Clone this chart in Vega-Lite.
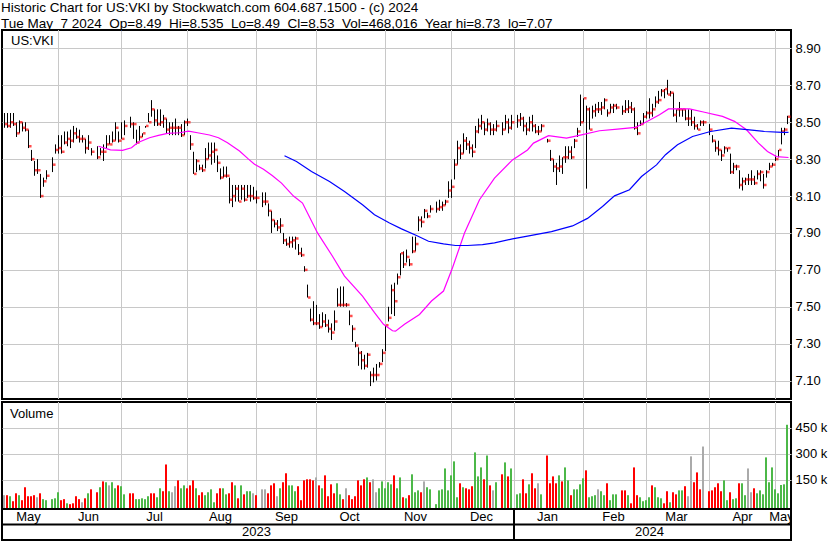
{
"$schema":"https://vega.github.io/schema/vega-lite/v6.json",
"background":"white",
"padding":{"left":0,"top":0,"right":0,"bottom":0},
"bounds":"flush",
"resolve":{"scale":{"color":"independent"}},
"title":{"text":"Historic Chart for US:VKI by Stockwatch.com 604.687.1500 - (c) 2024","subtitle":"Tue May\u00a0 7 2024\u00a0 Op=8.49\u00a0 Hi=8.535\u00a0 Lo=8.49\u00a0 Cl=8.53\u00a0 Vol=468,016\u00a0 Year hi=8.73\u00a0 lo=7.07","anchor":"start","font":"Liberation Sans","fontSize":13.5,"fontWeight":"normal","color":"black","subtitleFont":"Liberation Sans","subtitleFontSize":13.5,"subtitleColor":"black","subtitlePadding":2.5,"offset":-1.5,"dx":1,"dy":0},
"config":{"view":{"stroke":"black","strokeWidth":2},"axis":{"labelFont":"Liberation Sans","labelFontSize":13,"labelColor":"black","gridColor":"#c8c8c8","gridWidth":1,"ticks":false,"domain":false,"title":null},"text":{"font":"Liberation Sans"}},
"datasets":{
"grid":[{"d":"2023-06-01"},{"d":"2023-06-30"},{"d":"2023-08-01"},{"d":"2023-09-01"},{"d":"2023-09-29"},{"d":"2023-11-01"},{"d":"2023-12-01"},{"d":"2024-01-01"},{"d":"2024-02-01"},{"d":"2024-03-01"},{"d":"2024-04-01"},{"d":"2024-05-01"}],
"lab":[{"lbl":"May","d":"2023-05-18","row":"m"},{"lbl":"Jun","d":"2023-06-15","row":"m"},{"lbl":"Jul","d":"2023-07-17","row":"m"},{"lbl":"Aug","d":"2023-08-16","row":"m"},{"lbl":"Sep","d":"2023-09-15","row":"m"},{"lbl":"Oct","d":"2023-10-16","row":"m"},{"lbl":"Nov","d":"2023-11-15","row":"m"},{"lbl":"Dec","d":"2023-12-15","row":"m"},{"lbl":"Jan","d":"2024-01-16","row":"m"},{"lbl":"Feb","d":"2024-02-15","row":"m"},{"lbl":"Mar","d":"2024-03-15","row":"m"},{"lbl":"Apr","d":"2024-04-16","row":"m"},{"lbl":"May","d":"2024-05-03","row":"m"},{"lbl":"2023","d":"2023-09-01","row":"y"},{"lbl":"2024","d":"2024-03-04","row":"y"}],
"sep":[{"row":"y","d":"2024-01-01"}],
"ma":[
{"d":"2023-06-20","k":"ma30","p":8.37},{"d":"2023-06-26","k":"ma30","p":8.35},{"d":"2023-06-30","k":"ma30","p":8.348},{"d":"2023-07-05","k":"ma30","p":8.362},{"d":"2023-07-07","k":"ma30","p":8.389},{"d":"2023-07-13","k":"ma30","p":8.416},{"d":"2023-07-18","k":"ma30","p":8.429},{"d":"2023-07-21","k":"ma30","p":8.44},{"d":"2023-07-27","k":"ma30","p":8.443},{"d":"2023-08-01","k":"ma30","p":8.452},{"d":"2023-08-04","k":"ma30","p":8.443},{"d":"2023-08-10","k":"ma30","p":8.431},{"d":"2023-08-15","k":"ma30","p":8.416},{"d":"2023-08-18","k":"ma30","p":8.389},{"d":"2023-08-24","k":"ma30","p":8.344},{"d":"2023-08-29","k":"ma30","p":8.30},{"d":"2023-08-31","k":"ma30","p":8.272},{"d":"2023-09-05","k":"ma30","p":8.245},{"d":"2023-09-08","k":"ma30","p":8.21},{"d":"2023-09-13","k":"ma30","p":8.17},{"d":"2023-09-19","k":"ma30","p":8.10},{"d":"2023-09-22","k":"ma30","p":8.062},{"d":"2023-09-29","k":"ma30","p":7.90},{"d":"2023-10-06","k":"ma30","p":7.774},{"d":"2023-10-12","k":"ma30","p":7.666},{"d":"2023-10-20","k":"ma30","p":7.558},{"d":"2023-10-26","k":"ma30","p":7.468},{"d":"2023-10-31","k":"ma30","p":7.405},{"d":"2023-11-03","k":"ma30","p":7.37},{"d":"2023-11-06","k":"ma30","p":7.368},{"d":"2023-11-09","k":"ma30","p":7.405},{"d":"2023-11-16","k":"ma30","p":7.458},{"d":"2023-11-22","k":"ma30","p":7.531},{"d":"2023-11-28","k":"ma30","p":7.585},{"d":"2023-12-01","k":"ma30","p":7.711},{"d":"2023-12-07","k":"ma30","p":7.90},{"d":"2023-12-14","k":"ma30","p":8.08},{"d":"2023-12-21","k":"ma30","p":8.197},{"d":"2023-12-29","k":"ma30","p":8.296},{"d":"2024-01-05","k":"ma30","p":8.35},{"d":"2024-01-09","k":"ma30","p":8.387},{"d":"2024-01-16","k":"ma30","p":8.427},{"d":"2024-01-24","k":"ma30","p":8.414},{"d":"2024-01-31","k":"ma30","p":8.432},{"d":"2024-02-08","k":"ma30","p":8.454},{"d":"2024-02-16","k":"ma30","p":8.463},{"d":"2024-02-26","k":"ma30","p":8.472},{"d":"2024-03-01","k":"ma30","p":8.505},{"d":"2024-03-07","k":"ma30","p":8.541},{"d":"2024-03-12","k":"ma30","p":8.572},{"d":"2024-03-21","k":"ma30","p":8.572},{"d":"2024-03-28","k":"ma30","p":8.554},{"d":"2024-04-05","k":"ma30","p":8.532},{"d":"2024-04-11","k":"ma30","p":8.505},{"d":"2024-04-17","k":"ma30","p":8.459},{"d":"2024-04-23","k":"ma30","p":8.387},{"d":"2024-04-26","k":"ma30","p":8.342},{"d":"2024-05-01","k":"ma30","p":8.314},{"d":"2024-05-07","k":"ma30","p":8.309},
{"d":"2023-09-14","k":"ma90","p":8.318},{"d":"2023-09-20","k":"ma90","p":8.287},{"d":"2023-09-27","k":"ma90","p":8.233},{"d":"2023-10-05","k":"ma90","p":8.179},{"d":"2023-10-12","k":"ma90","p":8.125},{"d":"2023-10-20","k":"ma90","p":8.053},{"d":"2023-10-26","k":"ma90","p":7.999},{"d":"2023-11-02","k":"ma90","p":7.954},{"d":"2023-11-08","k":"ma90","p":7.922},{"d":"2023-11-15","k":"ma90","p":7.886},{"d":"2023-11-21","k":"ma90","p":7.855},{"d":"2023-11-28","k":"ma90","p":7.841},{"d":"2023-12-04","k":"ma90","p":7.832},{"d":"2023-12-08","k":"ma90","p":7.832},{"d":"2023-12-15","k":"ma90","p":7.837},{"d":"2023-12-21","k":"ma90","p":7.846},{"d":"2023-12-29","k":"ma90","p":7.868},{"d":"2024-01-05","k":"ma90","p":7.883},{"d":"2024-01-17","k":"ma90","p":7.907},{"d":"2024-01-26","k":"ma90","p":7.938},{"d":"2024-02-02","k":"ma90","p":7.979},{"d":"2024-02-09","k":"ma90","p":8.043},{"d":"2024-02-15","k":"ma90","p":8.101},{"d":"2024-02-22","k":"ma90","p":8.134},{"d":"2024-02-28","k":"ma90","p":8.206},{"d":"2024-03-06","k":"ma90","p":8.269},{"d":"2024-03-11","k":"ma90","p":8.324},{"d":"2024-03-15","k":"ma90","p":8.378},{"d":"2024-03-22","k":"ma90","p":8.423},{"d":"2024-04-01","k":"ma90","p":8.450},{"d":"2024-04-10","k":"ma90","p":8.468},{"d":"2024-04-18","k":"ma90","p":8.459},{"d":"2024-04-25","k":"ma90","p":8.450},{"d":"2024-05-03","k":"ma90","p":8.445},{"d":"2024-05-07","k":"ma90","p":8.445}],
"px":[
{"d":"2023-05-08","h":8.55,"l":8.47,"c":8.49,"v":60000,"dir":"flat"},
{"d":"2023-05-09","h":8.55,"l":8.47,"c":8.48,"v":60000,"dir":"down"},
{"d":"2023-05-10","h":8.55,"l":8.47,"c":8.50,"v":54000,"dir":"up"},
{"d":"2023-05-11","h":8.55,"l":8.48,"c":8.49,"v":25000,"dir":"down"},
{"d":"2023-05-12","h":8.50,"l":8.42,"c":8.44,"v":71000,"dir":"down"},
{"d":"2023-05-15","h":8.51,"l":8.44,"c":8.50,"v":60000,"dir":"up"},
{"d":"2023-05-16","h":8.50,"l":8.45,"c":8.47,"v":31000,"dir":"down"},
{"d":"2023-05-17","h":8.50,"l":8.45,"c":8.46,"v":106000,"dir":"down"},
{"d":"2023-05-18","h":8.46,"l":8.36,"c":8.37,"v":54000,"dir":"down"},
{"d":"2023-05-19","h":8.35,"l":8.29,"c":8.30,"v":54000,"dir":"down"},
{"d":"2023-05-22","h":8.29,"l":8.21,"c":8.24,"v":60000,"dir":"down"},
{"d":"2023-05-23","h":8.30,"l":8.22,"c":8.24,"v":48000,"dir":"flat"},
{"d":"2023-05-24","h":8.22,"l":8.09,"c":8.10,"v":71000,"dir":"down"},
{"d":"2023-05-25","h":8.20,"l":8.15,"c":8.18,"v":37000,"dir":"up"},
{"d":"2023-05-26","h":8.24,"l":8.19,"c":8.21,"v":31000,"dir":"up"},
{"d":"2023-05-30","h":8.31,"l":8.23,"c":8.27,"v":37000,"dir":"up"},
{"d":"2023-05-31","h":8.38,"l":8.33,"c":8.35,"v":42000,"dir":"up"},
{"d":"2023-06-01","h":8.43,"l":8.33,"c":8.36,"v":77000,"dir":"up"},
{"d":"2023-06-02","h":8.43,"l":8.33,"c":8.34,"v":31000,"dir":"down"},
{"d":"2023-06-05","h":8.45,"l":8.38,"c":8.39,"v":37000,"dir":"down"},
{"d":"2023-06-06","h":8.45,"l":8.37,"c":8.41,"v":13000,"dir":"up"},
{"d":"2023-06-07","h":8.46,"l":8.36,"c":8.40,"v":8000,"dir":"down"},
{"d":"2023-06-08","h":8.48,"l":8.39,"c":8.44,"v":13000,"dir":"down"},
{"d":"2023-06-09","h":8.47,"l":8.41,"c":8.42,"v":54000,"dir":"down"},
{"d":"2023-06-12","h":8.46,"l":8.39,"c":8.41,"v":37000,"dir":"down"},
{"d":"2023-06-13","h":8.43,"l":8.39,"c":8.41,"v":19000,"dir":"flat"},
{"d":"2023-06-14","h":8.41,"l":8.33,"c":8.36,"v":42000,"dir":"down"},
{"d":"2023-06-15","h":8.43,"l":8.35,"c":8.39,"v":71000,"dir":"up"},
{"d":"2023-06-16","h":8.36,"l":8.32,"c":8.34,"v":94000,"dir":"down"},
{"d":"2023-06-20","h":8.37,"l":8.30,"c":8.31,"v":77000,"dir":"down"},
{"d":"2023-06-21","h":8.36,"l":8.32,"c":8.34,"v":106000,"dir":"up"},
{"d":"2023-06-22","h":8.38,"l":8.29,"c":8.34,"v":140000,"dir":"down"},
{"d":"2023-06-23","h":8.43,"l":8.36,"c":8.38,"v":135000,"dir":"up"},
{"d":"2023-06-26","h":8.43,"l":8.38,"c":8.38,"v":117000,"dir":"flat"},
{"d":"2023-06-27","h":8.45,"l":8.39,"c":8.40,"v":135000,"dir":"up"},
{"d":"2023-06-28","h":8.50,"l":8.40,"c":8.47,"v":100000,"dir":"up"},
{"d":"2023-06-29","h":8.45,"l":8.39,"c":8.40,"v":117000,"dir":"down"},
{"d":"2023-06-30","h":8.50,"l":8.41,"c":8.41,"v":112000,"dir":"up"},
{"d":"2023-07-03","h":8.51,"l":8.43,"c":8.48,"v":65000,"dir":"up"},
{"d":"2023-07-05","h":8.53,"l":8.47,"c":8.49,"v":71000,"dir":"down"},
{"d":"2023-07-06","h":8.50,"l":8.41,"c":8.49,"v":71000,"dir":"down"},
{"d":"2023-07-07","h":8.46,"l":8.38,"c":8.39,"v":37000,"dir":"up"},
{"d":"2023-07-10","h":8.48,"l":8.40,"c":8.42,"v":37000,"dir":"up"},
{"d":"2023-07-11","h":8.44,"l":8.42,"c":8.44,"v":42000,"dir":"up"},
{"d":"2023-07-12","h":8.48,"l":8.47,"c":8.48,"v":37000,"dir":"up"},
{"d":"2023-07-13","h":8.55,"l":8.50,"c":8.50,"v":54000,"dir":"up"},
{"d":"2023-07-14","h":8.62,"l":8.53,"c":8.57,"v":71000,"dir":"down"},
{"d":"2023-07-17","h":8.57,"l":8.48,"c":8.51,"v":71000,"dir":"down"},
{"d":"2023-07-18","h":8.57,"l":8.48,"c":8.49,"v":48000,"dir":"up"},
{"d":"2023-07-19","h":8.57,"l":8.48,"c":8.50,"v":100000,"dir":"up"},
{"d":"2023-07-20","h":8.54,"l":8.47,"c":8.52,"v":83000,"dir":"down"},
{"d":"2023-07-21","h":8.52,"l":8.44,"c":8.46,"v":238000,"dir":"down"},
{"d":"2023-07-24","h":8.50,"l":8.43,"c":8.47,"v":83000,"dir":"up"},
{"d":"2023-07-25","h":8.50,"l":8.43,"c":8.47,"v":77000,"dir":"flat"},
{"d":"2023-07-26","h":8.52,"l":8.43,"c":8.47,"v":112000,"dir":"flat"},
{"d":"2023-07-27","h":8.48,"l":8.43,"c":8.47,"v":146000,"dir":"down"},
{"d":"2023-07-28","h":8.49,"l":8.42,"c":8.43,"v":100000,"dir":"up"},
{"d":"2023-07-31","h":8.51,"l":8.43,"c":8.50,"v":117000,"dir":"up"},
{"d":"2023-08-01","h":8.52,"l":8.48,"c":8.50,"v":100000,"dir":"down"},
{"d":"2023-08-02","h":8.43,"l":8.35,"c":8.38,"v":117000,"dir":"down"},
{"d":"2023-08-03","h":8.34,"l":8.22,"c":8.22,"v":146000,"dir":"down"},
{"d":"2023-08-04","h":8.30,"l":8.23,"c":8.29,"v":100000,"dir":"up"},
{"d":"2023-08-07","h":8.27,"l":8.24,"c":8.25,"v":60000,"dir":"down"},
{"d":"2023-08-08","h":8.27,"l":8.23,"c":8.24,"v":77000,"dir":"down"},
{"d":"2023-08-09","h":8.36,"l":8.25,"c":8.30,"v":60000,"dir":"up"},
{"d":"2023-08-10","h":8.39,"l":8.30,"c":8.32,"v":77000,"dir":"up"},
{"d":"2023-08-11","h":8.39,"l":8.27,"c":8.34,"v":94000,"dir":"up"},
{"d":"2023-08-14","h":8.39,"l":8.28,"c":8.35,"v":19000,"dir":"up"},
{"d":"2023-08-15","h":8.32,"l":8.23,"c":8.28,"v":71000,"dir":"down"},
{"d":"2023-08-16","h":8.25,"l":8.19,"c":8.20,"v":100000,"dir":"down"},
{"d":"2023-08-17","h":8.26,"l":8.20,"c":8.21,"v":100000,"dir":"up"},
{"d":"2023-08-18","h":8.26,"l":8.20,"c":8.21,"v":65000,"dir":"up"},
{"d":"2023-08-21","h":8.20,"l":8.06,"c":8.08,"v":71000,"dir":"down"},
{"d":"2023-08-22","h":8.16,"l":8.04,"c":8.10,"v":135000,"dir":"down"},
{"d":"2023-08-23","h":8.16,"l":8.07,"c":8.14,"v":117000,"dir":"up"},
{"d":"2023-08-24","h":8.16,"l":8.07,"c":8.07,"v":42000,"dir":"down"},
{"d":"2023-08-25","h":8.16,"l":8.08,"c":8.14,"v":117000,"dir":"up"},
{"d":"2023-08-28","h":8.16,"l":8.07,"c":8.08,"v":65000,"dir":"down"},
{"d":"2023-08-29","h":8.16,"l":8.09,"c":8.10,"v":83000,"dir":"up"},
{"d":"2023-08-30","h":8.16,"l":8.07,"c":8.10,"v":83000,"dir":"up"},
{"d":"2023-08-31","h":8.15,"l":8.08,"c":8.09,"v":71000,"dir":"flat"},
{"d":"2023-09-01","h":8.13,"l":8.06,"c":8.09,"v":60000,"dir":"down"},
{"d":"2023-09-05","h":8.12,"l":8.04,"c":8.07,"v":94000,"dir":"flat"},
{"d":"2023-09-06","h":8.12,"l":8.05,"c":8.07,"v":94000,"dir":"flat"},
{"d":"2023-09-07","h":8.06,"l":7.99,"c":8.02,"v":71000,"dir":"down"},
{"d":"2023-09-08","h":8.02,"l":7.90,"c":7.97,"v":117000,"dir":"down"},
{"d":"2023-09-11","h":7.97,"l":7.93,"c":7.95,"v":129000,"dir":"down"},
{"d":"2023-09-12","h":7.97,"l":7.91,"c":7.93,"v":54000,"dir":"flat"},
{"d":"2023-09-13","h":7.98,"l":7.90,"c":7.94,"v":100000,"dir":"up"},
{"d":"2023-09-14","h":7.90,"l":7.84,"c":7.86,"v":135000,"dir":"down"},
{"d":"2023-09-15","h":7.87,"l":7.83,"c":7.84,"v":187000,"dir":"down"},
{"d":"2023-09-18","h":7.88,"l":7.82,"c":7.85,"v":117000,"dir":"up"},
{"d":"2023-09-19","h":7.88,"l":7.82,"c":7.86,"v":117000,"dir":"up"},
{"d":"2023-09-20","h":7.88,"l":7.81,"c":7.87,"v":83000,"dir":"up"},
{"d":"2023-09-21","h":7.84,"l":7.78,"c":7.79,"v":112000,"dir":"down"},
{"d":"2023-09-22","h":7.82,"l":7.77,"c":7.78,"v":31000,"dir":"down"},
{"d":"2023-09-25","h":7.72,"l":7.69,"c":7.70,"v":146000,"dir":"down"},
{"d":"2023-09-26","h":7.62,"l":7.55,"c":7.55,"v":152000,"dir":"down"},
{"d":"2023-09-27","h":7.49,"l":7.42,"c":7.43,"v":152000,"dir":"down"},
{"d":"2023-09-28","h":7.53,"l":7.40,"c":7.41,"v":146000,"dir":"down"},
{"d":"2023-09-29","h":7.51,"l":7.40,"c":7.41,"v":163000,"dir":"flat"},
{"d":"2023-10-02","h":7.46,"l":7.38,"c":7.39,"v":117000,"dir":"down"},
{"d":"2023-10-03","h":7.47,"l":7.39,"c":7.42,"v":100000,"dir":"up"},
{"d":"2023-10-04","h":7.46,"l":7.39,"c":7.40,"v":175000,"dir":"down"},
{"d":"2023-10-05","h":7.43,"l":7.36,"c":7.38,"v":54000,"dir":"down"},
{"d":"2023-10-06","h":7.41,"l":7.32,"c":7.36,"v":123000,"dir":"down"},
{"d":"2023-10-09","h":7.48,"l":7.37,"c":7.42,"v":71000,"dir":"down"},
{"d":"2023-10-10","h":7.60,"l":7.50,"c":7.51,"v":129000,"dir":"up"},
{"d":"2023-10-11","h":7.61,"l":7.50,"c":7.51,"v":65000,"dir":"up"},
{"d":"2023-10-12","h":7.61,"l":7.50,"c":7.51,"v":37000,"dir":"down"},
{"d":"2023-10-13","h":7.52,"l":7.50,"c":7.51,"v":100000,"dir":"flat"},
{"d":"2023-10-16","h":7.48,"l":7.40,"c":7.45,"v":60000,"dir":"down"},
{"d":"2023-10-17","h":7.40,"l":7.31,"c":7.38,"v":37000,"dir":"down"},
{"d":"2023-10-18","h":7.31,"l":7.28,"c":7.29,"v":54000,"dir":"down"},
{"d":"2023-10-19","h":7.28,"l":7.18,"c":7.25,"v":146000,"dir":"down"},
{"d":"2023-10-20","h":7.26,"l":7.16,"c":7.21,"v":117000,"dir":"down"},
{"d":"2023-10-23","h":7.24,"l":7.16,"c":7.18,"v":152000,"dir":"down"},
{"d":"2023-10-24","h":7.25,"l":7.17,"c":7.24,"v":163000,"dir":"up"},
{"d":"2023-10-25","h":7.15,"l":7.07,"c":7.13,"v":135000,"dir":"down"},
{"d":"2023-10-26","h":7.17,"l":7.09,"c":7.13,"v":152000,"dir":"flat"},
{"d":"2023-10-27","h":7.19,"l":7.10,"c":7.13,"v":77000,"dir":"flat"},
{"d":"2023-10-30","h":7.20,"l":7.17,"c":7.19,"v":100000,"dir":"up"},
{"d":"2023-10-31","h":7.27,"l":7.20,"c":7.25,"v":140000,"dir":"up"},
{"d":"2023-11-01","h":7.40,"l":7.26,"c":7.40,"v":100000,"dir":"up"},
{"d":"2023-11-02","h":7.50,"l":7.42,"c":7.44,"v":135000,"dir":"up"},
{"d":"2023-11-03","h":7.62,"l":7.46,"c":7.59,"v":123000,"dir":"up"},
{"d":"2023-11-06","h":7.63,"l":7.45,"c":7.53,"v":175000,"dir":"down"},
{"d":"2023-11-07","h":7.68,"l":7.62,"c":7.66,"v":100000,"dir":"up"},
{"d":"2023-11-08","h":7.79,"l":7.67,"c":7.79,"v":163000,"dir":"up"},
{"d":"2023-11-09","h":7.80,"l":7.71,"c":7.73,"v":48000,"dir":"down"},
{"d":"2023-11-10","h":7.81,"l":7.74,"c":7.77,"v":42000,"dir":"up"},
{"d":"2023-11-13","h":7.76,"l":7.72,"c":7.73,"v":60000,"dir":"down"},
{"d":"2023-11-14","h":7.88,"l":7.79,"c":7.80,"v":181000,"dir":"up"},
{"d":"2023-11-15","h":7.88,"l":7.80,"c":7.84,"v":77000,"dir":"up"},
{"d":"2023-11-16","h":7.99,"l":7.91,"c":7.97,"v":88000,"dir":"up"},
{"d":"2023-11-17","h":7.99,"l":7.93,"c":7.96,"v":77000,"dir":"down"},
{"d":"2023-11-20","h":8.03,"l":7.98,"c":8.02,"v":140000,"dir":"flat"},
{"d":"2023-11-21","h":8.01,"l":7.98,"c":7.99,"v":106000,"dir":"up"},
{"d":"2023-11-22","h":8.05,"l":8.01,"c":8.03,"v":94000,"dir":"up"},
{"d":"2023-11-24","h":8.07,"l":8.01,"c":8.03,"v":8000,"dir":"up"},
{"d":"2023-11-27","h":8.08,"l":8.02,"c":8.04,"v":88000,"dir":"up"},
{"d":"2023-11-28","h":8.07,"l":8.02,"c":8.05,"v":94000,"dir":"up"},
{"d":"2023-11-29","h":8.08,"l":8.05,"c":8.07,"v":215000,"dir":"up"},
{"d":"2023-11-30","h":8.18,"l":8.09,"c":8.13,"v":88000,"dir":"up"},
{"d":"2023-12-01","h":8.19,"l":8.09,"c":8.15,"v":175000,"dir":"up"},
{"d":"2023-12-04","h":8.30,"l":8.19,"c":8.27,"v":256000,"dir":"up"},
{"d":"2023-12-05","h":8.40,"l":8.27,"c":8.36,"v":48000,"dir":"up"},
{"d":"2023-12-06","h":8.38,"l":8.30,"c":8.33,"v":129000,"dir":"down"},
{"d":"2023-12-07","h":8.44,"l":8.33,"c":8.40,"v":106000,"dir":"up"},
{"d":"2023-12-08","h":8.42,"l":8.35,"c":8.38,"v":100000,"dir":"down"},
{"d":"2023-12-11","h":8.40,"l":8.33,"c":8.36,"v":94000,"dir":"down"},
{"d":"2023-12-12","h":8.38,"l":8.31,"c":8.34,"v":112000,"dir":"down"},
{"d":"2023-12-13","h":8.48,"l":8.36,"c":8.45,"v":308000,"dir":"up"},
{"d":"2023-12-14","h":8.52,"l":8.44,"c":8.48,"v":169000,"dir":"up"},
{"d":"2023-12-15","h":8.54,"l":8.46,"c":8.50,"v":221000,"dir":"up"},
{"d":"2023-12-18","h":8.50,"l":8.43,"c":8.46,"v":152000,"dir":"down"},
{"d":"2023-12-19","h":8.52,"l":8.45,"c":8.49,"v":290000,"dir":"up"},
{"d":"2023-12-20","h":8.50,"l":8.43,"c":8.46,"v":117000,"dir":"down"},
{"d":"2023-12-21","h":8.49,"l":8.43,"c":8.46,"v":88000,"dir":"flat"},
{"d":"2023-12-22","h":8.51,"l":8.45,"c":8.48,"v":135000,"dir":"up"},
{"d":"2023-12-26","h":8.50,"l":8.43,"c":8.46,"v":181000,"dir":"down"},
{"d":"2023-12-27","h":8.54,"l":8.46,"c":8.50,"v":250000,"dir":"up"},
{"d":"2023-12-28","h":8.52,"l":8.44,"c":8.47,"v":169000,"dir":"down"},
{"d":"2023-12-29","h":8.54,"l":8.46,"c":8.50,"v":215000,"dir":"up"},
{"d":"2024-01-02","h":8.54,"l":8.47,"c":8.51,"v":65000,"dir":"up"},
{"d":"2024-01-03","h":8.55,"l":8.48,"c":8.52,"v":71000,"dir":"up"},
{"d":"2024-01-04","h":8.53,"l":8.45,"c":8.48,"v":152000,"dir":"down"},
{"d":"2024-01-05","h":8.50,"l":8.43,"c":8.46,"v":71000,"dir":"down"},
{"d":"2024-01-08","h":8.53,"l":8.45,"c":8.50,"v":123000,"dir":"up"},
{"d":"2024-01-09","h":8.54,"l":8.45,"c":8.48,"v":187000,"dir":"down"},
{"d":"2024-01-10","h":8.49,"l":8.44,"c":8.45,"v":100000,"dir":"down"},
{"d":"2024-01-11","h":8.48,"l":8.43,"c":8.45,"v":129000,"dir":"flat"},
{"d":"2024-01-12","h":8.49,"l":8.45,"c":8.48,"v":65000,"dir":"up"},
{"d":"2024-01-16","h":8.41,"l":8.39,"c":8.40,"v":290000,"dir":"down"},
{"d":"2024-01-17","h":8.35,"l":8.29,"c":8.30,"v":129000,"dir":"down"},
{"d":"2024-01-18","h":8.30,"l":8.23,"c":8.26,"v":169000,"dir":"down"},
{"d":"2024-01-19","h":8.28,"l":8.16,"c":8.25,"v":129000,"dir":"down"},
{"d":"2024-01-22","h":8.32,"l":8.23,"c":8.26,"v":175000,"dir":"up"},
{"d":"2024-01-23","h":8.31,"l":8.22,"c":8.31,"v":140000,"dir":"down"},
{"d":"2024-01-24","h":8.37,"l":8.28,"c":8.31,"v":221000,"dir":"up"},
{"d":"2024-01-25","h":8.37,"l":8.30,"c":8.34,"v":146000,"dir":"up"},
{"d":"2024-01-26","h":8.37,"l":8.30,"c":8.31,"v":60000,"dir":"down"},
{"d":"2024-01-29","h":8.41,"l":8.36,"c":8.40,"v":94000,"dir":"up"},
{"d":"2024-01-30","h":8.47,"l":8.42,"c":8.45,"v":94000,"dir":"up"},
{"d":"2024-01-31","h":8.65,"l":8.48,"c":8.50,"v":123000,"dir":"up"},
{"d":"2024-02-01","h":8.63,"l":8.50,"c":8.63,"v":158000,"dir":"up"},
{"d":"2024-02-02","h":8.59,"l":8.14,"c":8.57,"v":204000,"dir":"down"},
{"d":"2024-02-05","h":8.58,"l":8.46,"c":8.46,"v":48000,"dir":"up"},
{"d":"2024-02-06","h":8.59,"l":8.52,"c":8.56,"v":54000,"dir":"up"},
{"d":"2024-02-07","h":8.60,"l":8.53,"c":8.57,"v":60000,"dir":"up"},
{"d":"2024-02-08","h":8.61,"l":8.55,"c":8.57,"v":94000,"dir":"flat"},
{"d":"2024-02-09","h":8.61,"l":8.54,"c":8.58,"v":83000,"dir":"up"},
{"d":"2024-02-12","h":8.63,"l":8.57,"c":8.62,"v":60000,"dir":"up"},
{"d":"2024-02-13","h":8.57,"l":8.53,"c":8.55,"v":129000,"dir":"down"},
{"d":"2024-02-14","h":8.60,"l":8.55,"c":8.58,"v":31000,"dir":"up"},
{"d":"2024-02-15","h":8.60,"l":8.55,"c":8.59,"v":65000,"dir":"up"},
{"d":"2024-02-16","h":8.60,"l":8.57,"c":8.58,"v":65000,"dir":"up"},
{"d":"2024-02-20","h":8.59,"l":8.54,"c":8.56,"v":88000,"dir":"down"},
{"d":"2024-02-21","h":8.62,"l":8.55,"c":8.57,"v":88000,"dir":"down"},
{"d":"2024-02-22","h":8.62,"l":8.55,"c":8.58,"v":60000,"dir":"up"},
{"d":"2024-02-23","h":8.61,"l":8.55,"c":8.57,"v":13000,"dir":"down"},
{"d":"2024-02-26","h":8.58,"l":8.46,"c":8.47,"v":221000,"dir":"down"},
{"d":"2024-02-27","h":8.50,"l":8.43,"c":8.44,"v":60000,"dir":"down"},
{"d":"2024-02-28","h":8.51,"l":8.48,"c":8.49,"v":48000,"dir":"up"},
{"d":"2024-02-29","h":8.55,"l":8.49,"c":8.53,"v":25000,"dir":"up"},
{"d":"2024-03-01","h":8.56,"l":8.52,"c":8.55,"v":31000,"dir":"up"},
{"d":"2024-03-04","h":8.63,"l":8.52,"c":8.55,"v":48000,"dir":"up"},
{"d":"2024-03-05","h":8.60,"l":8.53,"c":8.57,"v":117000,"dir":"down"},
{"d":"2024-03-06","h":8.64,"l":8.58,"c":8.61,"v":106000,"dir":"up"},
{"d":"2024-03-07","h":8.67,"l":8.60,"c":8.62,"v":48000,"dir":"up"},
{"d":"2024-03-08","h":8.68,"l":8.64,"c":8.67,"v":42000,"dir":"up"},
{"d":"2024-03-11","h":8.68,"l":8.63,"c":8.68,"v":13000,"dir":"down"},
{"d":"2024-03-12","h":8.73,"l":8.65,"c":8.65,"v":83000,"dir":"down"},
{"d":"2024-03-13","h":8.67,"l":8.64,"c":8.66,"v":19000,"dir":"up"},
{"d":"2024-03-14","h":8.66,"l":8.53,"c":8.54,"v":77000,"dir":"down"},
{"d":"2024-03-15","h":8.57,"l":8.50,"c":8.57,"v":65000,"dir":"down"},
{"d":"2024-03-18","h":8.61,"l":8.53,"c":8.57,"v":88000,"dir":"up"},
{"d":"2024-03-19","h":8.57,"l":8.53,"c":8.57,"v":88000,"dir":"up"},
{"d":"2024-03-20","h":8.57,"l":8.51,"c":8.52,"v":112000,"dir":"down"},
{"d":"2024-03-21","h":8.57,"l":8.48,"c":8.52,"v":54000,"dir":"flat"},
{"d":"2024-03-22","h":8.57,"l":8.48,"c":8.50,"v":285000,"dir":"flat"},
{"d":"2024-03-25","h":8.53,"l":8.46,"c":8.48,"v":135000,"dir":"down"},
{"d":"2024-03-26","h":8.49,"l":8.46,"c":8.46,"v":192000,"dir":"down"},
{"d":"2024-03-27","h":8.51,"l":8.48,"c":8.50,"v":94000,"dir":"down"},
{"d":"2024-03-28","h":8.51,"l":8.48,"c":8.50,"v":342000,"dir":"flat"},
{"d":"2024-04-01","h":8.49,"l":8.43,"c":8.46,"v":83000,"dir":"down"},
{"d":"2024-04-02","h":8.43,"l":8.39,"c":8.40,"v":88000,"dir":"down"},
{"d":"2024-04-03","h":8.40,"l":8.34,"c":8.36,"v":106000,"dir":"down"},
{"d":"2024-04-04","h":8.40,"l":8.32,"c":8.35,"v":129000,"dir":"down"},
{"d":"2024-04-05","h":8.35,"l":8.29,"c":8.32,"v":83000,"dir":"down"},
{"d":"2024-04-08","h":8.37,"l":8.33,"c":8.36,"v":146000,"dir":"up"},
{"d":"2024-04-09","h":8.36,"l":8.34,"c":8.36,"v":31000,"dir":"up"},
{"d":"2024-04-10","h":8.33,"l":8.22,"c":8.23,"v":77000,"dir":"down"},
{"d":"2024-04-11","h":8.28,"l":8.22,"c":8.26,"v":37000,"dir":"up"},
{"d":"2024-04-12","h":8.27,"l":8.24,"c":8.26,"v":42000,"dir":"up"},
{"d":"2024-04-15","h":8.24,"l":8.14,"c":8.16,"v":129000,"dir":"down"},
{"d":"2024-04-16","h":8.20,"l":8.13,"c":8.18,"v":129000,"dir":"up"},
{"d":"2024-04-17","h":8.20,"l":8.16,"c":8.19,"v":60000,"dir":"up"},
{"d":"2024-04-18","h":8.22,"l":8.16,"c":8.19,"v":215000,"dir":"flat"},
{"d":"2024-04-19","h":8.24,"l":8.16,"c":8.19,"v":77000,"dir":"flat"},
{"d":"2024-04-22","h":8.21,"l":8.16,"c":8.17,"v":100000,"dir":"down"},
{"d":"2024-04-23","h":8.24,"l":8.19,"c":8.22,"v":71000,"dir":"up"},
{"d":"2024-04-24","h":8.24,"l":8.18,"c":8.23,"v":88000,"dir":"up"},
{"d":"2024-04-25","h":8.22,"l":8.14,"c":8.16,"v":65000,"dir":"up"},
{"d":"2024-04-26","h":8.24,"l":8.20,"c":8.23,"v":279000,"dir":"up"},
{"d":"2024-04-29","h":8.28,"l":8.24,"c":8.26,"v":135000,"dir":"up"},
{"d":"2024-04-30","h":8.28,"l":8.26,"c":8.27,"v":221000,"dir":"up"},
{"d":"2024-05-01","h":8.32,"l":8.29,"c":8.30,"v":94000,"dir":"up"},
{"d":"2024-05-02","h":8.35,"l":8.31,"c":8.35,"v":71000,"dir":"up"},
{"d":"2024-05-03","h":8.47,"l":8.38,"c":8.45,"v":119000,"dir":"up"},
{"d":"2024-05-06","h":8.47,"l":8.43,"c":8.46,"v":123000,"dir":"up"},
{"d":"2024-05-07","h":8.535,"l":8.49,"c":8.53,"v":468016,"dir":"up"}]
},
"vconcat":[
{"width":789,"height":369,
"title":{"text":"US:VKI","anchor":"start","offset":-18,"dx":9,"fontSize":13,"fontWeight":"normal","font":"Liberation Sans","color":"black"},
"layer":[
{"data":{"name":"grid"},"mark":{"type":"rule","color":"#c8c8c8","strokeWidth":1,"xOffset":0.5},"encoding":{"x":{"field":"d","type":"ordinal","bandPosition":0,"axis":null,"scale":{"type":"band","paddingInner":0,"paddingOuter":0.5,"align":0.667,"domain":["2023-05-08","2023-05-09","2023-05-10","2023-05-11","2023-05-12","2023-05-15","2023-05-16","2023-05-17","2023-05-18","2023-05-19","2023-05-22","2023-05-23","2023-05-24","2023-05-25","2023-05-26","2023-05-29","2023-05-30","2023-05-31","2023-06-01","2023-06-02","2023-06-05","2023-06-06","2023-06-07","2023-06-08","2023-06-09","2023-06-12","2023-06-13","2023-06-14","2023-06-15","2023-06-16","2023-06-19","2023-06-20","2023-06-21","2023-06-22","2023-06-23","2023-06-26","2023-06-27","2023-06-28","2023-06-29","2023-06-30","2023-07-03","2023-07-04","2023-07-05","2023-07-06","2023-07-07","2023-07-10","2023-07-11","2023-07-12","2023-07-13","2023-07-14","2023-07-17","2023-07-18","2023-07-19","2023-07-20","2023-07-21","2023-07-24","2023-07-25","2023-07-26","2023-07-27","2023-07-28","2023-07-31","2023-08-01","2023-08-02","2023-08-03","2023-08-04","2023-08-07","2023-08-08","2023-08-09","2023-08-10","2023-08-11","2023-08-14","2023-08-15","2023-08-16","2023-08-17","2023-08-18","2023-08-21","2023-08-22","2023-08-23","2023-08-24","2023-08-25","2023-08-28","2023-08-29","2023-08-30","2023-08-31","2023-09-01","2023-09-04","2023-09-05","2023-09-06","2023-09-07","2023-09-08","2023-09-11","2023-09-12","2023-09-13","2023-09-14","2023-09-15","2023-09-18","2023-09-19","2023-09-20","2023-09-21","2023-09-22","2023-09-25","2023-09-26","2023-09-27","2023-09-28","2023-09-29","2023-10-02","2023-10-03","2023-10-04","2023-10-05","2023-10-06","2023-10-09","2023-10-10","2023-10-11","2023-10-12","2023-10-13","2023-10-16","2023-10-17","2023-10-18","2023-10-19","2023-10-20","2023-10-23","2023-10-24","2023-10-25","2023-10-26","2023-10-27","2023-10-30","2023-10-31","2023-11-01","2023-11-02","2023-11-03","2023-11-06","2023-11-07","2023-11-08","2023-11-09","2023-11-10","2023-11-13","2023-11-14","2023-11-15","2023-11-16","2023-11-17","2023-11-20","2023-11-21","2023-11-22","2023-11-23","2023-11-24","2023-11-27","2023-11-28","2023-11-29","2023-11-30","2023-12-01","2023-12-04","2023-12-05","2023-12-06","2023-12-07","2023-12-08","2023-12-11","2023-12-12","2023-12-13","2023-12-14","2023-12-15","2023-12-18","2023-12-19","2023-12-20","2023-12-21","2023-12-22","2023-12-25","2023-12-26","2023-12-27","2023-12-28","2023-12-29","2024-01-01","2024-01-02","2024-01-03","2024-01-04","2024-01-05","2024-01-08","2024-01-09","2024-01-10","2024-01-11","2024-01-12","2024-01-15","2024-01-16","2024-01-17","2024-01-18","2024-01-19","2024-01-22","2024-01-23","2024-01-24","2024-01-25","2024-01-26","2024-01-29","2024-01-30","2024-01-31","2024-02-01","2024-02-02","2024-02-05","2024-02-06","2024-02-07","2024-02-08","2024-02-09","2024-02-12","2024-02-13","2024-02-14","2024-02-15","2024-02-16","2024-02-19","2024-02-20","2024-02-21","2024-02-22","2024-02-23","2024-02-26","2024-02-27","2024-02-28","2024-02-29","2024-03-01","2024-03-04","2024-03-05","2024-03-06","2024-03-07","2024-03-08","2024-03-11","2024-03-12","2024-03-13","2024-03-14","2024-03-15","2024-03-18","2024-03-19","2024-03-20","2024-03-21","2024-03-22","2024-03-25","2024-03-26","2024-03-27","2024-03-28","2024-03-29","2024-04-01","2024-04-02","2024-04-03","2024-04-04","2024-04-05","2024-04-08","2024-04-09","2024-04-10","2024-04-11","2024-04-12","2024-04-15","2024-04-16","2024-04-17","2024-04-18","2024-04-19","2024-04-22","2024-04-23","2024-04-24","2024-04-25","2024-04-26","2024-04-29","2024-04-30","2024-05-01","2024-05-02","2024-05-03","2024-05-06","2024-05-07"]}}}},
{"data":{"name":"px"},"mark":{"type":"rule","color":"black","strokeWidth":1,"xOffset":-1},"encoding":{"x":{"field":"d","type":"ordinal","axis":null},"y":{"field":"h","type":"quantitative","scale":{"domain":[7,9],"nice":false,"zero":false},"axis":{"orient":"right","values":[7.1,7.2,7.3,7.4,7.5,7.6,7.7,7.8,7.9,8.0,8.1,8.2,8.3,8.4,8.5,8.6,8.7,8.8,8.9],"format":".2f","grid":true,"labelPadding":4}},"y2":{"field":"l"}}},
{"data":{"name":"px"},"mark":{"type":"tick","color":"#ff0000","size":2.5,"thickness":2.5,"xOffset":0.8},"encoding":{"x":{"field":"d","type":"ordinal","axis":null},"y":{"field":"c","type":"quantitative"}}},
{"data":{"name":"ma"},"mark":{"type":"line","strokeWidth":1.2},"encoding":{"x":{"field":"d","type":"ordinal","axis":null},"y":{"field":"p","type":"quantitative"},"color":{"field":"k","type":"nominal","scale":{"domain":["ma30","ma90"],"range":["#ff00ff","#0000ff"]},"legend":null}}}
]},
{"vconcat":[
{"width":789,"height":107,
"title":{"text":"Volume","anchor":"start","offset":-19,"dx":8,"fontSize":13,"fontWeight":"normal","font":"Liberation Sans","color":"black"},
"layer":[
{"data":{"name":"grid"},"mark":{"type":"rule","color":"#c8c8c8","strokeWidth":1,"xOffset":0.5},"encoding":{"x":{"field":"d","type":"ordinal","bandPosition":0,"axis":null,"scale":{"type":"band","paddingInner":0,"paddingOuter":0.5,"align":0.667,"domain":["2023-05-08","2023-05-09","2023-05-10","2023-05-11","2023-05-12","2023-05-15","2023-05-16","2023-05-17","2023-05-18","2023-05-19","2023-05-22","2023-05-23","2023-05-24","2023-05-25","2023-05-26","2023-05-29","2023-05-30","2023-05-31","2023-06-01","2023-06-02","2023-06-05","2023-06-06","2023-06-07","2023-06-08","2023-06-09","2023-06-12","2023-06-13","2023-06-14","2023-06-15","2023-06-16","2023-06-19","2023-06-20","2023-06-21","2023-06-22","2023-06-23","2023-06-26","2023-06-27","2023-06-28","2023-06-29","2023-06-30","2023-07-03","2023-07-04","2023-07-05","2023-07-06","2023-07-07","2023-07-10","2023-07-11","2023-07-12","2023-07-13","2023-07-14","2023-07-17","2023-07-18","2023-07-19","2023-07-20","2023-07-21","2023-07-24","2023-07-25","2023-07-26","2023-07-27","2023-07-28","2023-07-31","2023-08-01","2023-08-02","2023-08-03","2023-08-04","2023-08-07","2023-08-08","2023-08-09","2023-08-10","2023-08-11","2023-08-14","2023-08-15","2023-08-16","2023-08-17","2023-08-18","2023-08-21","2023-08-22","2023-08-23","2023-08-24","2023-08-25","2023-08-28","2023-08-29","2023-08-30","2023-08-31","2023-09-01","2023-09-04","2023-09-05","2023-09-06","2023-09-07","2023-09-08","2023-09-11","2023-09-12","2023-09-13","2023-09-14","2023-09-15","2023-09-18","2023-09-19","2023-09-20","2023-09-21","2023-09-22","2023-09-25","2023-09-26","2023-09-27","2023-09-28","2023-09-29","2023-10-02","2023-10-03","2023-10-04","2023-10-05","2023-10-06","2023-10-09","2023-10-10","2023-10-11","2023-10-12","2023-10-13","2023-10-16","2023-10-17","2023-10-18","2023-10-19","2023-10-20","2023-10-23","2023-10-24","2023-10-25","2023-10-26","2023-10-27","2023-10-30","2023-10-31","2023-11-01","2023-11-02","2023-11-03","2023-11-06","2023-11-07","2023-11-08","2023-11-09","2023-11-10","2023-11-13","2023-11-14","2023-11-15","2023-11-16","2023-11-17","2023-11-20","2023-11-21","2023-11-22","2023-11-23","2023-11-24","2023-11-27","2023-11-28","2023-11-29","2023-11-30","2023-12-01","2023-12-04","2023-12-05","2023-12-06","2023-12-07","2023-12-08","2023-12-11","2023-12-12","2023-12-13","2023-12-14","2023-12-15","2023-12-18","2023-12-19","2023-12-20","2023-12-21","2023-12-22","2023-12-25","2023-12-26","2023-12-27","2023-12-28","2023-12-29","2024-01-01","2024-01-02","2024-01-03","2024-01-04","2024-01-05","2024-01-08","2024-01-09","2024-01-10","2024-01-11","2024-01-12","2024-01-15","2024-01-16","2024-01-17","2024-01-18","2024-01-19","2024-01-22","2024-01-23","2024-01-24","2024-01-25","2024-01-26","2024-01-29","2024-01-30","2024-01-31","2024-02-01","2024-02-02","2024-02-05","2024-02-06","2024-02-07","2024-02-08","2024-02-09","2024-02-12","2024-02-13","2024-02-14","2024-02-15","2024-02-16","2024-02-19","2024-02-20","2024-02-21","2024-02-22","2024-02-23","2024-02-26","2024-02-27","2024-02-28","2024-02-29","2024-03-01","2024-03-04","2024-03-05","2024-03-06","2024-03-07","2024-03-08","2024-03-11","2024-03-12","2024-03-13","2024-03-14","2024-03-15","2024-03-18","2024-03-19","2024-03-20","2024-03-21","2024-03-22","2024-03-25","2024-03-26","2024-03-27","2024-03-28","2024-03-29","2024-04-01","2024-04-02","2024-04-03","2024-04-04","2024-04-05","2024-04-08","2024-04-09","2024-04-10","2024-04-11","2024-04-12","2024-04-15","2024-04-16","2024-04-17","2024-04-18","2024-04-19","2024-04-22","2024-04-23","2024-04-24","2024-04-25","2024-04-26","2024-04-29","2024-04-30","2024-05-01","2024-05-02","2024-05-03","2024-05-06","2024-05-07"]}}}},
{"data":{"name":"px"},"mark":{"type":"bar","width":2,"xOffset":-1.5},"encoding":{"x":{"field":"d","type":"ordinal","axis":null},"y":{"field":"v","type":"quantitative","scale":{"domain":[-20000,600000],"nice":false,"zero":false},"axis":{"orient":"right","values":[150000,300000,450000],"labelExpr":"datum.value/1000 + ' k'","grid":true,"labelPadding":4}},"y2":{"datum":-20000},"color":{"field":"dir","type":"nominal","scale":{"domain":["up","down","flat"],"range":["#4cb848","#ff0000","#aaaaaa"]},"legend":null}}}
]},
{"width":789,"height":31,
"layer":[
{"data":{"name":"lab"},"mark":{"type":"text","fontSize":13,"font":"Liberation Sans","color":"black","clip":true,"dx":-1},"encoding":{"x":{"field":"d","type":"ordinal","axis":null,"scale":{"type":"band","paddingInner":0,"paddingOuter":0.5,"align":0.667,"domain":["2023-05-08","2023-05-09","2023-05-10","2023-05-11","2023-05-12","2023-05-15","2023-05-16","2023-05-17","2023-05-18","2023-05-19","2023-05-22","2023-05-23","2023-05-24","2023-05-25","2023-05-26","2023-05-29","2023-05-30","2023-05-31","2023-06-01","2023-06-02","2023-06-05","2023-06-06","2023-06-07","2023-06-08","2023-06-09","2023-06-12","2023-06-13","2023-06-14","2023-06-15","2023-06-16","2023-06-19","2023-06-20","2023-06-21","2023-06-22","2023-06-23","2023-06-26","2023-06-27","2023-06-28","2023-06-29","2023-06-30","2023-07-03","2023-07-04","2023-07-05","2023-07-06","2023-07-07","2023-07-10","2023-07-11","2023-07-12","2023-07-13","2023-07-14","2023-07-17","2023-07-18","2023-07-19","2023-07-20","2023-07-21","2023-07-24","2023-07-25","2023-07-26","2023-07-27","2023-07-28","2023-07-31","2023-08-01","2023-08-02","2023-08-03","2023-08-04","2023-08-07","2023-08-08","2023-08-09","2023-08-10","2023-08-11","2023-08-14","2023-08-15","2023-08-16","2023-08-17","2023-08-18","2023-08-21","2023-08-22","2023-08-23","2023-08-24","2023-08-25","2023-08-28","2023-08-29","2023-08-30","2023-08-31","2023-09-01","2023-09-04","2023-09-05","2023-09-06","2023-09-07","2023-09-08","2023-09-11","2023-09-12","2023-09-13","2023-09-14","2023-09-15","2023-09-18","2023-09-19","2023-09-20","2023-09-21","2023-09-22","2023-09-25","2023-09-26","2023-09-27","2023-09-28","2023-09-29","2023-10-02","2023-10-03","2023-10-04","2023-10-05","2023-10-06","2023-10-09","2023-10-10","2023-10-11","2023-10-12","2023-10-13","2023-10-16","2023-10-17","2023-10-18","2023-10-19","2023-10-20","2023-10-23","2023-10-24","2023-10-25","2023-10-26","2023-10-27","2023-10-30","2023-10-31","2023-11-01","2023-11-02","2023-11-03","2023-11-06","2023-11-07","2023-11-08","2023-11-09","2023-11-10","2023-11-13","2023-11-14","2023-11-15","2023-11-16","2023-11-17","2023-11-20","2023-11-21","2023-11-22","2023-11-23","2023-11-24","2023-11-27","2023-11-28","2023-11-29","2023-11-30","2023-12-01","2023-12-04","2023-12-05","2023-12-06","2023-12-07","2023-12-08","2023-12-11","2023-12-12","2023-12-13","2023-12-14","2023-12-15","2023-12-18","2023-12-19","2023-12-20","2023-12-21","2023-12-22","2023-12-25","2023-12-26","2023-12-27","2023-12-28","2023-12-29","2024-01-01","2024-01-02","2024-01-03","2024-01-04","2024-01-05","2024-01-08","2024-01-09","2024-01-10","2024-01-11","2024-01-12","2024-01-15","2024-01-16","2024-01-17","2024-01-18","2024-01-19","2024-01-22","2024-01-23","2024-01-24","2024-01-25","2024-01-26","2024-01-29","2024-01-30","2024-01-31","2024-02-01","2024-02-02","2024-02-05","2024-02-06","2024-02-07","2024-02-08","2024-02-09","2024-02-12","2024-02-13","2024-02-14","2024-02-15","2024-02-16","2024-02-19","2024-02-20","2024-02-21","2024-02-22","2024-02-23","2024-02-26","2024-02-27","2024-02-28","2024-02-29","2024-03-01","2024-03-04","2024-03-05","2024-03-06","2024-03-07","2024-03-08","2024-03-11","2024-03-12","2024-03-13","2024-03-14","2024-03-15","2024-03-18","2024-03-19","2024-03-20","2024-03-21","2024-03-22","2024-03-25","2024-03-26","2024-03-27","2024-03-28","2024-03-29","2024-04-01","2024-04-02","2024-04-03","2024-04-04","2024-04-05","2024-04-08","2024-04-09","2024-04-10","2024-04-11","2024-04-12","2024-04-15","2024-04-16","2024-04-17","2024-04-18","2024-04-19","2024-04-22","2024-04-23","2024-04-24","2024-04-25","2024-04-26","2024-04-29","2024-04-30","2024-05-01","2024-05-02","2024-05-03","2024-05-06","2024-05-07"]}},"y":{"field":"row","type":"nominal","axis":null,"scale":{"type":"band","domain":["m","y"],"paddingInner":0,"paddingOuter":0}},"text":{"field":"lbl"}}},
{"data":{"name":"sep"},"mark":{"type":"rule","color":"black","strokeWidth":2},"encoding":{"y":{"field":"row","type":"nominal","bandPosition":0,"axis":null}}},
{"data":{"name":"sep"},"mark":{"type":"rule","color":"black","strokeWidth":2},"encoding":{"x":{"field":"d","type":"ordinal","bandPosition":0,"axis":null}}}
]}
],"spacing":0,"bounds":"flush"}
],
"spacing":3
}
